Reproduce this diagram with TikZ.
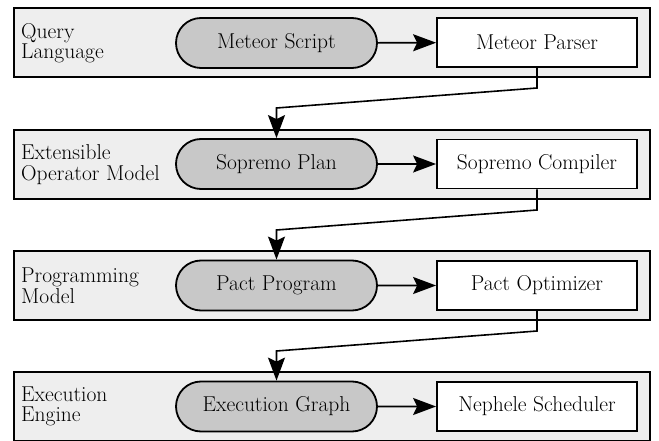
\documentclass[tikz,border=0pt]{standalone}
\usetikzlibrary{shapes.misc,arrows.meta}
\definecolor{layerfill}{RGB}{238,238,238}
\definecolor{pillfill}{RGB}{200,200,200}
\begin{document}
\begin{tikzpicture}[x=1pt,y=-1pt,
  every node/.style={font=\fontsize{21.5}{20.5}\selectfont, inner sep=0pt},
  layerbox/.style={draw, line width=2.2pt, fill=layerfill, minimum width=636pt, minimum height=69pt},
  pill/.style={draw, line width=1.8pt, fill=pillfill, rounded rectangle, minimum width=201pt, minimum height=50pt},
  procbox/.style={draw, line width=1.8pt, fill=white, minimum width=200pt, minimum height=49pt},
  lbl/.style={anchor=west, align=left},
  flow/.style={line width=1.6pt, -{Stealth[length=23pt, width=17pt, inset=4pt]}}
]
\useasboundingbox (0,0) rectangle (659,441);
% layers
\node[layerbox] (L1) at (332,42.5) {};
\node[layerbox] (L2) at (332,164.5) {};
\node[layerbox] (L3) at (332,285.5) {};
\node[layerbox] (L4) at (332,406.5) {};
% labels
\node[lbl] (t1) at (21,43) {Query\\Language};
\node[lbl] (t2) at (21,164.5) {Extensible\\Operator Model};
\node[lbl] (t3) at (21,285.5) {Programming\\Model};
\node[lbl] (t4) at (21,406.5) {Execution\\Engine};
% pills
\node[pill] (s1) at (276.5,43) {Meteor Script};
\node[pill] (s2) at (276.5,164) {Sopremo Plan};
\node[pill] (s3) at (276.5,285.5) {Pact Program};
\node[pill] (s4) at (276.5,406.5) {Execution Graph};
% boxes
\node[procbox] (r1) at (537,42.5) {Meteor Parser};
\node[procbox] (r2) at (537,164) {Sopremo Compiler};
\node[procbox] (r3) at (537,285.5) {Pact Optimizer};
\node[procbox] (r4) at (537,406.5) {Nephele Scheduler};
% horizontal arrows
\draw[flow] (s1) -- (r1);
\draw[flow] (s2) -- (r2);
\draw[flow] (s3) -- (r3);
\draw[flow] (s4) -- (r4);
% knees
\coordinate (a1) at (537,88);
\coordinate (b1) at (276.5,108);
\coordinate (a2) at (537,210);
\coordinate (b2) at (276.5,230);
\coordinate (a3) at (537,331);
\coordinate (b3) at (276.5,351);
\draw[flow] (r1.south) -- (a1) -- (b1) -- (s2.north);
\draw[flow] (r2.south) -- (a2) -- (b2) -- (s3.north);
\draw[flow] (r3.south) -- (a3) -- (b3) -- (s4.north);
\end{tikzpicture}
\end{document}
